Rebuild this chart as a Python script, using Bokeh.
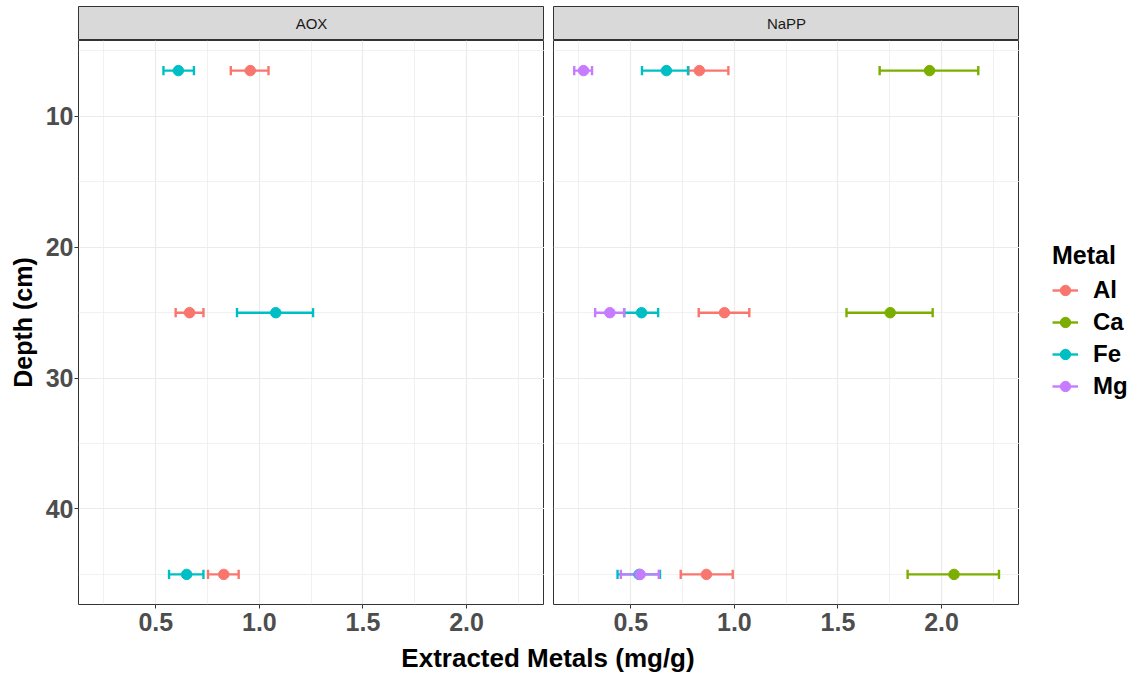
from bokeh.plotting import figure
from bokeh.models import Range1d, FixedTicker, Legend, LegendItem, ColumnDataSource
from bokeh.layouts import row, column
from bokeh.embed import file_html
from bokeh.resources import INLINE
from bokeh.core.properties import value

# ---------------- data ----------------
depths = [6.5, 25, 45]
metals = ["Al", "Ca", "Fe", "Mg"]
methods = ["AOX", "NaPP"]

AOX_Al_mean = [0.956, 0.663, 0.828]
AOX_Al_lo = [0.862, 0.596, 0.752]
AOX_Al_hi = [1.044, 0.730, 0.900]
AOX_Fe_mean = [0.609, 1.079, 0.649]
AOX_Fe_lo = [0.537, 0.892, 0.564]
AOX_Fe_hi = [0.684, 1.259, 0.730]

NaPP_Al_mean = [0.831, 0.952, 0.865]
NaPP_Al_lo = [0.778, 0.828, 0.741]
NaPP_Al_hi = [0.971, 1.072, 0.992]
NaPP_Ca_mean = [1.942, 1.752, 2.060]
NaPP_Ca_lo = [1.701, 1.541, 1.836]
NaPP_Ca_hi = [2.177, 1.957, 2.277]
NaPP_Fe_mean = [0.672, 0.552, 0.540]
NaPP_Fe_lo = [0.554, 0.468, 0.436]
NaPP_Fe_hi = [0.776, 0.632, 0.641]
NaPP_Mg_mean = [0.272, 0.399, 0.545]
NaPP_Mg_lo = [0.227, 0.328, 0.452]
NaPP_Mg_hi = [0.313, 0.468, 0.635]

x_ticks = [0.5, 1.0, 1.5, 2.0]
x_tick_labels = ["0.5", "1.0", "1.5", "2.0"]
x_minor = [0.25, 0.75, 1.25, 1.75, 2.25]
y_ticks = [10, 20, 30, 40]
y_tick_labels = ["10", "20", "30", "40"]
y_minor = [5, 15, 25, 35, 45]

series = {
    "AOX": {
        "Al": (AOX_Al_mean, AOX_Al_lo, AOX_Al_hi),
        "Fe": (AOX_Fe_mean, AOX_Fe_lo, AOX_Fe_hi),
    },
    "NaPP": {
        "Al": (NaPP_Al_mean, NaPP_Al_lo, NaPP_Al_hi),
        "Ca": (NaPP_Ca_mean, NaPP_Ca_lo, NaPP_Ca_hi),
        "Fe": (NaPP_Fe_mean, NaPP_Fe_lo, NaPP_Fe_hi),
        "Mg": (NaPP_Mg_mean, NaPP_Mg_lo, NaPP_Mg_hi),
    },
}

# ---------------- style ----------------
colors = {"Al": "#F8766D", "Ca": "#7CAE00", "Fe": "#00BFC4", "Mg": "#C77CFF"}
FONT = "Liberation Sans"
CAP = 0.35
GRID = "#EBEBEB"
DARK = "#333333"
LW = 2.4
PT = 10.5

x_range = Range1d(0.127, 2.376)
y_range = Range1d(47.3, 4.2)


def make_strip(label, width, lb, rb):
    s = figure(width=width, height=40, x_range=Range1d(0, 1), y_range=Range1d(0, 1),
               min_border_left=lb, min_border_right=rb, min_border_top=6, min_border_bottom=0,
               toolbar_location=None, output_backend="svg")
    s.axis.visible = False
    s.grid.visible = False
    s.background_fill_color = "#D9D9D9"
    s.border_fill_color = "white"
    s.outline_line_color = DARK
    s.outline_line_width = 1
    s.text(x=[0.5], y=[0.5], text=[label], text_align="center", text_baseline="middle",
           text_font=value(FONT), text_font_size="15px", text_color="#1A1A1A")
    return s


def make_sources(method):
    srcs = {}
    for m in metals:
        if m not in series[method]:
            continue
        mean, lo, hi = series[method][m]
        srcs[m] = ColumnDataSource(dict(
            depth=depths, mean=mean, lo=lo, hi=hi,
            c0=[d - CAP for d in depths], c1=[d + CAP for d in depths]))
    return srcs


def make_panel(method, width, lb, rb, show_y):
    p = figure(width=width, height=600, x_range=x_range, y_range=y_range,
               min_border_left=lb, min_border_right=rb, min_border_top=0, min_border_bottom=36,
               toolbar_location=None, output_backend="svg")
    p.background_fill_color = "white"
    p.border_fill_color = "white"
    p.outline_line_color = DARK
    p.outline_line_width = 1

    xt = FixedTicker(ticks=x_ticks, minor_ticks=x_minor)
    yt = FixedTicker(ticks=y_ticks, minor_ticks=y_minor)
    p.xaxis.ticker = xt
    p.yaxis.ticker = yt
    p.xgrid.ticker = xt
    p.ygrid.ticker = yt
    p.xaxis.major_label_overrides = {t: l for t, l in zip(x_ticks, x_tick_labels)}
    p.yaxis.major_label_overrides = {t: l for t, l in zip(y_ticks, y_tick_labels)}

    for g in (p.xgrid, p.ygrid):
        g.grid_line_color = GRID
        g.grid_line_width = 1.2
        g.minor_grid_line_color = GRID
        g.minor_grid_line_width = 0.7

    for ax in (p.xaxis, p.yaxis):
        ax.axis_line_color = None
        ax.major_tick_line_color = DARK
        ax.major_tick_line_width = 1
        ax.major_tick_out = 4
        ax.major_tick_in = 0
        ax.minor_tick_line_color = None
        ax.major_label_text_font = FONT
        ax.major_label_text_font_size = "25px"
        ax.major_label_text_font_style = "bold"
        ax.major_label_text_color = "#4D4D4D"
    p.xaxis.major_label_standoff = 4
    p.yaxis.major_label_standoff = 1

    if show_y:
        p.yaxis.axis_label = "Depth (cm)"
        p.yaxis.axis_label_text_font = FONT
        p.yaxis.axis_label_text_font_size = "25px"
        p.yaxis.axis_label_text_font_style = "bold"
        p.yaxis.axis_label_text_color = "black"
        p.yaxis.axis_label_standoff = 6
    else:
        p.yaxis.visible = False

    srcs = make_sources(method)
    for m, src in srcs.items():
        c = colors[m]
        p.segment(x0="lo", y0="depth", x1="hi", y1="depth", source=src, line_color=c, line_width=LW)
        p.segment(x0="lo", y0="c0", x1="lo", y1="c1", source=src, line_color=c, line_width=LW)
        p.segment(x0="hi", y0="c0", x1="hi", y1="c1", source=src, line_color=c, line_width=LW)
    for m, src in srcs.items():
        c = colors[m]
        p.scatter(x="mean", y="depth", source=src, size=PT, fill_color=c, line_color=c)
    return p, srcs


s1 = make_strip("AOX", 544, 78, 0)
p1, _ = make_panel("AOX", 544, 78, 0, True)
s2 = make_strip("NaPP", 475, 9, 0)
p2, napp_srcs = make_panel("NaPP", 475, 9, 0, False)

# legend figure: key only; its ranges keep the series out of view
lf = figure(width=126, height=640, x_range=Range1d(100, 101), y_range=Range1d(100, 101),
            min_border_left=0, min_border_right=0, min_border_top=0, min_border_bottom=0,
            toolbar_location=None, output_backend="svg")
lf.axis.visible = False
lf.grid.visible = False
lf.outline_line_color = None
lf.background_fill_color = "white"
lf.border_fill_color = "white"
items = []
for m in metals:
    src = napp_srcs[m]
    r1 = lf.segment(x0="lo", y0="depth", x1="hi", y1="depth", source=src,
                    line_color=colors[m], line_width=LW)
    r2 = lf.scatter(x="mean", y="depth", source=src, size=PT,
                    fill_color=colors[m], line_color=colors[m])
    items.append(LegendItem(label=m, renderers=[r1, r2]))

legend = Legend(items=items, title="Metal", location=(33, 240))
legend.title_text_font = FONT
legend.title_text_font_size = "25px"
legend.title_text_font_style = "bold"
legend.title_text_color = "black"
legend.title_standoff = 6
legend.label_text_font = FONT
legend.label_text_font_size = "24px"
legend.label_text_font_style = "bold"
legend.label_text_color = "black"
legend.glyph_width = 26
legend.glyph_height = 28
legend.label_height = 28
legend.label_standoff = 15
legend.spacing = 4
legend.padding = 0
legend.margin = 0
legend.border_line_color = None
legend.background_fill_alpha = 0
lf.add_layout(legend)

t = figure(width=1145, height=36, x_range=Range1d(0, 1145), y_range=Range1d(0, 36),
           min_border_left=0, min_border_right=0, min_border_top=0, min_border_bottom=0,
           toolbar_location=None, output_backend="svg")
t.axis.visible = False
t.grid.visible = False
t.outline_line_color = None
t.background_fill_color = "white"
t.border_fill_color = "white"
t.text(x=[547.5], y=[19], text=["Extracted Metals (mg/g)"], text_align="center",
       text_baseline="middle", text_font=value(FONT), text_font_size="26px",
       text_font_style="bold", text_color="black")

layout = column(row(column(s1, p1), column(s2, p2), lf), t)

with open("out.html", "w") as f:
    f.write(file_html(layout, INLINE))
